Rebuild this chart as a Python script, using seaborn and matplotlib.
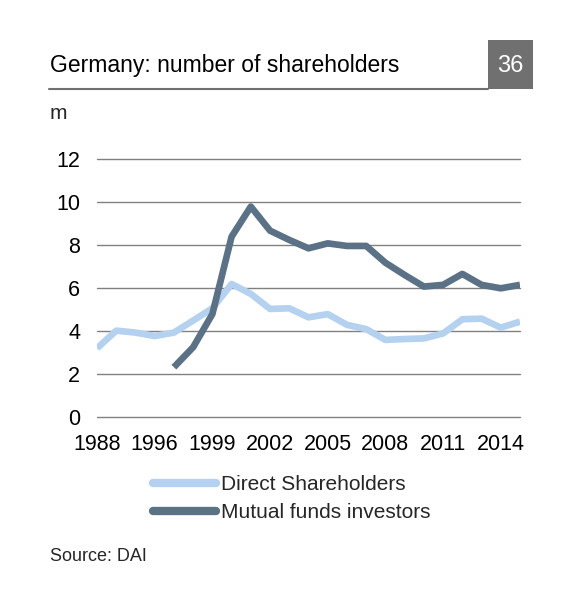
import matplotlib

matplotlib.use("Agg")

import matplotlib.pyplot as plt
import numpy as np
import pandas as pd
import seaborn as sns
from matplotlib.patches import Rectangle

# Years on the category axis (first three are irregular in the source)
years = [1988, 1992, 1995] + list(range(1996, 2016))
direct = [3.21, 4.03, 3.94, 3.78, 3.94, 4.50, 5.07, 6.20, 5.74, 5.04, 5.07, 4.65,
          4.80, 4.30, 4.10, 3.60, 3.64, 3.67, 3.90, 4.56, 4.59, 4.17, 4.45]
mutual = [np.nan, np.nan, np.nan, np.nan, 2.33, 3.26, 4.80, 8.40, 9.80, 8.68, 8.25, 7.86,
          8.09, 7.97, 7.97, 7.19, 6.62, 6.08, 6.16, 6.67, 6.16, 6.00, 6.16]
series = ["Direct Shareholders", "Mutual funds investors"]
yticks = [0, 2, 4, 6, 8, 10, 12]

LIGHT = "#b5d1f0"
DARK = "#5b7186"
GRID = "#808080"

df = pd.DataFrame({
    "year": [str(y) for y in years] * 2,
    "value": direct + mutual,
    "series": [series[0]] * len(years) + [series[1]] * len(years),
})

sns.set_theme(style="white")
plt.rcParams["font.family"] = ["Liberation Sans", "DejaVu Sans"]

fig = plt.figure(figsize=(5.84, 5.91), dpi=100)
ax = fig.add_axes([97 / 584, 1 - 417.3 / 591, (520 - 97) / 584, (417.3 - 159.3) / 591])

sns.lineplot(data=df, x="year", y="value", hue="series", ax=ax,
             palette={series[0]: LIGHT, series[1]: DARK}, linewidth=4.8,
             solid_capstyle="butt", legend=False)

ax.set_xlim(0, len(years) - 1)
ax.set_ylim(0, 12)
ax.set_yticks(yticks)
ax.set_yticklabels([str(t) for t in yticks])
tick_idx = list(range(0, len(years), 3))
ax.set_xticks(tick_idx)
ax.set_xticklabels([str(years[i]) for i in tick_idx])
for t in yticks:
    ax.axhline(t, color=GRID, lw=1.0, zorder=0, clip_on=False)
for s in ax.spines.values():
    s.set_visible(False)
ax.tick_params(axis="both", length=0, labelsize=15.5, colors="black")
ax.tick_params(axis="y", pad=12)
ax.tick_params(axis="x", pad=12)
ax.set_xlabel("")
ax.set_ylabel("")

# Legend below the plot
handles = [plt.Line2D([], [], color=LIGHT, lw=6, solid_capstyle="round"),
           plt.Line2D([], [], color=DARK, lw=6, solid_capstyle="round")]
fig.legend(handles, series, loc="upper left", bbox_to_anchor=(153 / 584, 1 - 475 / 591),
           frameon=False, fontsize=15, handlelength=3.0, handletextpad=0.25,
           labelspacing=0.45, borderpad=0, borderaxespad=0)

# Header: title, rule and page-number box
fig.text(50 / 584, 1 - 72 / 591, "Germany: number of shareholders", fontsize=16.5,
         ha="left", va="baseline", color="black")
fig.add_artist(plt.Line2D([49 / 584, 488 / 584], [1 - 88.7 / 591] * 2,
                          color="#707070", lw=1.5, transform=fig.transFigure))
fig.add_artist(Rectangle((487.7 / 584, 1 - 89.3 / 591), 45 / 584, 49.3 / 591,
                         transform=fig.transFigure, color="#707070", lw=0))
fig.text(510 / 584, 1 - 72 / 591, "36", fontsize=17, ha="center", va="baseline",
         color="white")
fig.text(50 / 584, 1 - 119 / 591, "m", fontsize=15, ha="left", va="baseline")
fig.text(50 / 584, 1 - 561 / 591, "Source: DAI", fontsize=13, ha="left", va="baseline")

fig.savefig("out.png", dpi=100, facecolor="white")
